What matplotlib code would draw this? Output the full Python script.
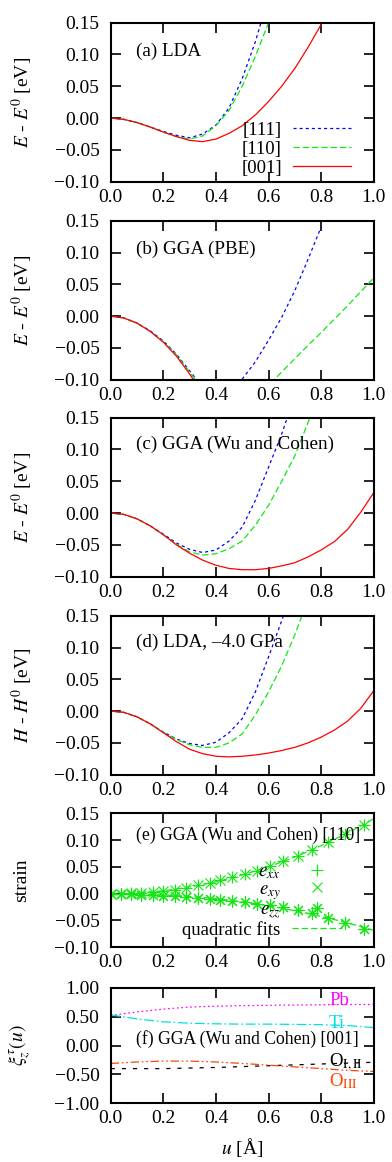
import numpy as np
import matplotlib
matplotlib.use('Agg')
import matplotlib.pyplot as plt
from matplotlib.lines import Line2D
from matplotlib.ticker import FuncFormatter

plt.rcParams['font.family'] = ['Liberation Serif', 'DejaVu Serif']
plt.rcParams['mathtext.fontset'] = 'stix'
plt.rcParams['font.size'] = 14
plt.rcParams['lines.scale_dashes'] = False

# ---- data ----
u_a = [0, .05, .1, .15, .2, .25, .3, .35, .4, .45, .5, .55, .6, .65, .7, .75, .8, .85]
a_111 = [0, -0.002, -0.007, -0.014, -0.021, -0.027, -0.031, -0.025, -0.011, 0.016, 0.062, 0.12, 0.19]
a_110 = [0, -0.002, -0.007, -0.014, -0.022, -0.029, -0.033, -0.028, -0.012, 0.012, 0.05, 0.097, 0.15, 0.21]
a_001 = [0, -0.002, -0.007, -0.014, -0.022, -0.029, -0.035, -0.037, -0.033, -0.024, -0.012, 0.005,
         0.026, 0.050, 0.078, 0.111, 0.147, 0.188]

u_b = [0, .05, .1, .15, .2, .25, .3, .35, .4, .45, .5, .55, .6, .65, .7, .75, .8, .85, .9, .95, 1.0]
b_111 = [0, -0.003, -0.011, -0.023, -0.039, -0.060, -0.086, -0.112, -0.128, -0.125, -0.099, -0.072,
         -0.038, -0.002, 0.040, 0.089, 0.140]
b_110 = [0, -0.003, -0.011, -0.024, -0.040, -0.061, -0.088, -0.115, -0.135, -0.145, -0.143, -0.130,
         -0.109, -0.088, -0.067, -0.046, -0.026, -0.005, 0.016, 0.038, 0.060]
b_001 = [0, -0.003, -0.011, -0.024, -0.041, -0.063, -0.091, -0.122]

u_c = u_b
c_111 = [0, -0.002, -0.009, -0.020, -0.033, -0.047, -0.057, -0.062, -0.058, -0.044, -0.022, 0.020,
         0.072, 0.124, 0.185]
c_110 = [0, -0.002, -0.009, -0.020, -0.034, -0.049, -0.061, -0.066, -0.064, -0.056, -0.044, -0.019,
         0.012, 0.050, 0.090, 0.142, 0.200]
c_001 = [0, -0.002, -0.009, -0.020, -0.034, -0.050, -0.063, -0.074, -0.082, -0.087, -0.089, -0.089,
         -0.087, -0.083, -0.078, -0.069, -0.058, -0.045, -0.026, 0.001, 0.032]

u_d = u_b
d_111 = [0, -0.002, -0.009, -0.020, -0.033, -0.044, -0.051, -0.054, -0.049, -0.034, -0.012, 0.030,
         0.085, 0.142, 0.200]
d_110 = [0, -0.002, -0.009, -0.020, -0.033, -0.045, -0.053, -0.057, -0.057, -0.050, -0.036, -0.006,
         0.030, 0.071, 0.120, 0.175]
d_001 = [0, -0.002, -0.009, -0.020, -0.034, -0.048, -0.060, -0.067, -0.071, -0.072, -0.071, -0.069,
         -0.066, -0.062, -0.057, -0.050, -0.041, -0.030, -0.016, 0.004, 0.032]

u_e = [0, 0.041, 0.079, 0.117, 0.161, 0.2, 0.244, 0.288, 0.333, 0.377, 0.415, 0.46, 0.51, 0.555,
       0.606, 0.657, 0.714, 0.765, 0.828, 0.892, 0.962]
e_xx = [0, 0, 0.001, 0.001, 0.003, 0.004, 0.007, 0.011, 0.015, 0.020, 0.025, 0.030, 0.036, 0.043,
        0.051, 0.060, 0.071, 0.082, 0.097, 0.112, 0.128]
e_xy = [0, 0, 0.001, 0.001, 0.003, 0.004, 0.007, 0.011, 0.015, 0.020, 0.025, 0.030, 0.036, 0.043,
        0.051, 0.060, 0.071, 0.082, 0.097, 0.112, 0.128]
e_zz = [0, -0.001, -0.001, -0.002, -0.003, -0.004, -0.005, -0.007, -0.008, -0.010, -0.012, -0.014,
        -0.016, -0.019, -0.022, -0.026, -0.030, -0.036, -0.046, -0.056, -0.066]

u_f = [0, .1, .2, .3, .4, .5, .6, .7, .8, .9, 1.0]
xi_Pb = [0.52, 0.58, 0.63, 0.665, 0.68, 0.69, 0.695, 0.70, 0.705, 0.71, 0.71]
xi_Ti = [0.53, 0.46, 0.41, 0.385, 0.375, 0.37, 0.37, 0.365, 0.36, 0.345, 0.31]
xi_O12 = [-0.40, -0.40, -0.40, -0.39, -0.38, -0.365, -0.35, -0.335, -0.32, -0.305, -0.29]
xi_O3 = [-0.31, -0.285, -0.27, -0.27, -0.285, -0.31, -0.34, -0.37, -0.40, -0.43, -0.45]

BLUE = '#0000ff'
GREEN = '#11e811'
RED = '#ff0000'
LFS = 13.5  # legend text

fig = plt.figure(figsize=(3.92, 11.62), dpi=100)


def add_ax(top, bottom):
    return fig.add_axes([110.7 / 392, 1 - bottom / 1162, 263 / 392, (bottom - top) / 1162])


def style(ax, ylim, yticks, nd):
    ax.set_xlim(0, 1)
    ax.set_ylim(*ylim)
    ax.set_xticks([0, 0.2, 0.4, 0.6, 0.8, 1.0])
    ax.set_yticks(yticks)
    ax.xaxis.set_major_formatter(FuncFormatter(lambda v, p: f'{v:.1f}'))
    ax.yaxis.set_major_formatter(FuncFormatter(lambda v, p: f'{v:.{nd}f}'.replace('-', '\u2212')))
    ax.tick_params(direction='in', top=True, right=True, length=7, width=1.2)
    ax.tick_params(axis='x', pad=5)
    ax.tick_params(axis='y', pad=8)
    for s in ax.spines.values():
        s.set_linewidth(1.5)


def ylab(ax, text, x=-0.337):
    ax.set_ylabel(text, va='center')
    ax.yaxis.set_label_coords(x, 0.5)


def three(ax, u, y111, y110, y001):
    ax.plot(u[:len(y111)], y111, color=BLUE, lw=0.9, dashes=(2.2, 2.2))
    ax.plot(u[:len(y110)], y110, color=GREEN, lw=0.9, dashes=(4.5, 2.2))
    ax.plot(u[:len(y001)], y001, color=RED, lw=0.9)


def caption(ax, y, text, fs=13.8):
    ax.text(0.096, y, text, transform=ax.transAxes, va='center', fontsize=fs)


eticks = [-0.10, -0.05, 0.0, 0.05, 0.10, 0.15]

# (a)
ax = add_ax(22.7, 181.7)
three(ax, u_a, a_111, a_110, a_001)
style(ax, (-0.10, 0.15), eticks, 2)
ylab(ax, r'$E$ - $E^0$ [eV]')
caption(ax, 0.82, '(a) LDA')
handles = [Line2D([], [], color=BLUE, lw=0.9, dashes=(2.2, 2.2)),
           Line2D([], [], color=GREEN, lw=0.9, dashes=(4.5, 2.2)),
           Line2D([], [], color=RED, lw=0.9)]
ax.legend(handles, ['[111]', '[110]', '[001]'], loc='lower right', bbox_to_anchor=(0.915, 0.03),
          frameon=False, markerfirst=False, handlelength=3.1, handletextpad=0.6, fontsize=LFS,
          labelspacing=0.1, borderpad=0, borderaxespad=0)

# (b)
ax = add_ax(220.7, 379.7)
three(ax, u_b, b_111, b_110, b_001)
style(ax, (-0.10, 0.15), eticks, 2)
ylab(ax, r'$E$ - $E^0$ [eV]')
caption(ax, 0.82, '(b) GGA (PBE)')

# (c)
ax = add_ax(417.7, 576.7)
three(ax, u_c, c_111, c_110, c_001)
style(ax, (-0.10, 0.15), eticks, 2)
ylab(ax, r'$E$ - $E^0$ [eV]')
caption(ax, 0.83, '(c) GGA (Wu and Cohen)')

# (d)
ax = add_ax(615.7, 774.7)
three(ax, u_d, d_111, d_110, d_001)
style(ax, (-0.10, 0.15), eticks, 2)
ylab(ax, r'$H$ - $H^0$ [eV]')
caption(ax, 0.83, '(d) LDA, \u20134.0 GPa')

# (e) strain
ax = add_ax(813.3, 947.0)
star = (8, 2, 0)
fit_u = np.linspace(0, 1, 101)
for vals in (e_xx, e_zz):
    c = np.polyfit(u_e, vals, 2)
    ax.plot(fit_u, np.polyval(c, fit_u), color=GREEN, lw=0.9, dashes=(4.5, 2.2))
ax.plot(u_e, e_xx, ls='none', marker='+', ms=9, mew=0.8, color=GREEN)
ax.plot(u_e, e_xy, ls='none', marker='x', ms=7, mew=0.8, color=GREEN)
ax.plot(u_e, e_zz, ls='none', marker=star, ms=9, mew=0.8, color=GREEN)
style(ax, (-0.10, 0.15), eticks, 2)
ylab(ax, 'strain')
caption(ax, 0.837, '(e) GGA (Wu and Cohen) [110]', fs=12.7)
handles = [Line2D([], [], ls='none', marker='+', ms=9, mew=0.8, color=GREEN),
           Line2D([], [], ls='none', marker='x', ms=7, mew=0.8, color=GREEN),
           Line2D([], [], ls='none', marker=star, ms=9, mew=0.8, color=GREEN),
           Line2D([], [], color=GREEN, lw=0.9, dashes=(4.5, 2.2))]
ax.legend(handles, [r'$e_{xx}$', r'$e_{xy}$', r'$e_{zz}$', 'quadratic fits'], loc='lower right',
          bbox_to_anchor=(0.88, 0.06), frameon=False, markerfirst=False, handlelength=2.7,
          handletextpad=0.6, labelspacing=0.0, borderpad=0, borderaxespad=0, fontsize=LFS)

# (f)
ax = add_ax(987.7, 1103.3)
ax.plot(u_f, xi_Pb, color='#ff00ff', lw=0.9, dashes=(1.2, 2.0))
ax.plot(u_f, xi_Ti, color='#00e0e0', lw=0.9, dashes=(7, 2, 1.2, 2))
ax.plot(u_f, xi_O12, color='black', lw=0.9, dashes=(3, 5))
ax.plot(u_f, xi_O3, color='#ff4500', lw=0.9, dashes=(6, 2, 1.2, 2, 1.2, 2))
style(ax, (-1.0, 1.0), [-1.0, -0.5, 0.0, 0.5, 1.0], 2)
ylab(ax, r'$\xi_z^{\tau}(u)$', x=-0.345)
ax.text(0.83, 0.885, 'Pb', color='#ff00ff', transform=ax.transAxes, va='center', fontsize=LFS)
ax.text(0.83, 0.69, 'Ti', color='#00e0e0', transform=ax.transAxes, va='center', fontsize=LFS)
caption(ax, 0.556, '(f) GGA (Wu and Cohen) [001]', fs=12.7)
ax.text(0.83, 0.35, r'O$_{\rm I,II}$', transform=ax.transAxes, va='center', fontsize=LFS)
ax.text(0.83, 0.19, r'O$_{\rm III}$', color='#ff4500', transform=ax.transAxes, va='center',
        fontsize=LFS)
ax.set_xlabel(r'$u$ [Å]', labelpad=6)

fig.savefig('out.png', dpi=100)
